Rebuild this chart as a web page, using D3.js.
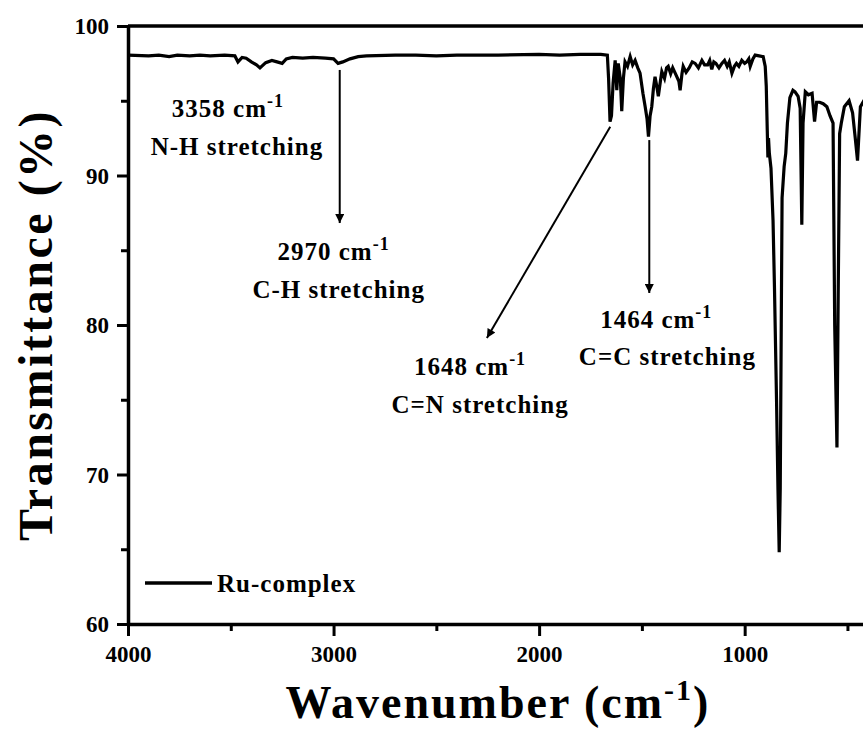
<!DOCTYPE html>
<html>
<head>
<meta charset="utf-8">
<script src="https://cdn.jsdelivr.net/npm/d3@7"></script>
<style>
  html, body { margin: 0; padding: 0; background: #fff; overflow: hidden; }
  svg { display: block; }
  text { font-family: "Liberation Serif", "Times New Roman", serif; font-weight: bold; fill: #000; }
</style>
</head>
<body>
<svg id="chart"></svg>
<script>
// spectrum (wavenumber in cm-1, transmittance in %)
const wavenumbers = [
  4000, 3900, 3850, 3800, 3760, 3700, 3650, 3600, 3530, 3480,
  3465, 3445, 3425, 3400, 3375, 3358, 3330, 3300, 3275, 3250,
  3230, 3200, 3150, 3100, 3040, 3000, 2978, 2955, 2920, 2880,
  2840, 2700, 2600, 2500, 2400, 2200, 2000, 1900, 1800, 1700,
  1668, 1662, 1655, 1648, 1640, 1630, 1622, 1615, 1605, 1598,
  1590, 1582, 1570, 1557, 1545, 1533, 1520, 1509, 1495, 1484,
  1475, 1468, 1460, 1452, 1444, 1436, 1428, 1420, 1410, 1403,
  1390, 1380, 1372, 1360, 1350, 1338, 1320, 1314, 1305, 1299,
  1285, 1270, 1255, 1241, 1225, 1208, 1195, 1180, 1170, 1160,
  1150, 1140, 1125, 1111, 1098, 1085, 1075, 1062, 1050, 1040,
  1028, 1014, 1000, 990, 980, 973, 960, 949, 930, 910,
  900, 895, 890, 887, 884, 880, 872, 862, 855, 845,
  838, 832, 827, 822, 818, 808, 800, 792, 780, 765,
  755, 740, 730, 722, 716, 705, 690, 672, 660, 650,
  635, 618, 600, 585, 570, 562, 551, 545, 538, 530,
  515, 492, 475, 462, 451, 444, 437, 420, 400
];
const transmittance = [
  98.05, 98.0, 98.05, 97.95, 98.05, 98.0, 98.05, 98.0, 98.05, 98.0,
  97.6, 97.9, 97.85, 97.6, 97.4, 97.2, 97.55, 97.7, 97.6, 97.5,
  97.8, 97.9, 97.85, 97.9, 97.85, 97.8, 97.5, 97.6, 97.8, 97.95,
  98.0, 98.05, 98.05, 98.0, 98.05, 98.05, 98.1, 98.05, 98.1, 98.1,
  98.05, 96.5, 93.6, 94.0, 96.2, 97.7, 95.7, 97.5, 96.5, 94.3,
  96.5, 97.6, 97.3, 97.95, 97.4, 97.7, 97.2, 96.85, 95.5, 94.6,
  93.8, 92.6, 94.0, 94.6, 95.8, 96.6, 96.0, 95.3, 96.3, 96.95,
  96.5, 97.2, 97.3, 96.8, 97.2, 96.85, 96.3, 95.7, 96.8, 97.3,
  96.9, 97.2, 97.6, 97.5, 97.2, 97.7, 97.4, 97.4, 97.7, 97.1,
  97.6, 97.5, 97.2, 97.5, 97.7, 97.3, 97.6, 96.85, 97.3, 97.5,
  97.3, 97.7, 97.5, 97.6, 97.8, 97.3, 97.8, 98.05, 98.0, 97.95,
  97.3, 96.0, 93.0, 91.2, 92.5, 91.5, 90.5, 87.0, 82.5, 75.0,
  69.0, 64.8, 69.0, 80.0, 88.5, 90.6, 91.5, 93.5, 95.2, 95.7,
  95.6, 95.3, 94.5, 86.7, 93.5, 95.6, 95.4, 95.5, 93.6, 94.9,
  94.9, 94.8, 94.6, 94.0, 93.5, 80.0, 71.8, 82.0, 92.8, 93.5,
  94.6, 95.0, 94.2, 92.5, 91.0, 92.8, 94.6, 95.0, 94.8
];

const xTicks = [4000, 3000, 2000, 1000];
const xMinorTicks = [3500, 2500, 1500, 500];
const yTicks = [60, 70, 80, 90, 100];
const yMinorTicks = [65, 75, 85, 95];

const seriesName = 'Ru-complex';

// peak labels: text anchors in data units, arrows from -> to
const peakValues = ['3358', '2970', '1648', '1464'];
const peakModes = ['N-H stretching', 'C-H stretching', 'C=N stretching', 'C=C stretching'];
const peakLabelAt = [[3514, 93.9], [3000, 84.35], [2336, 76.66], [1430, 79.8]];
const peakModeAt = [[3470, 91.37], [2975, 81.8], [2287, 74.1], [1376, 77.3]];
const arrowFrom = [null, [2970, 97.06], [1654, 93.26], [1464, 92.37]];
const arrowTo = [null, [2970, 86.82], [2254, 79.13], [1464, 82.14]];

const W = 863, H = 733;
const margin = {top: 26, left: 128, right: -5, bottom: 109};
const innerWidth = W - margin.left - margin.right;
const innerHeight = H - margin.top - margin.bottom;

const svg = d3.select('#chart').attr('width', W).attr('height', H);

svg.append('defs').append('marker')
  .attr('id', 'arrowHead')
  .attr('markerUnits', 'userSpaceOnUse')
  .attr('viewBox', '0 0 10 10')
  .attr('refX', 10).attr('refY', 5)
  .attr('markerWidth', 11).attr('markerHeight', 9)
  .attr('orient', 'auto')
  .append('path')
    .attr('d', 'M0,0 L10,5 L0,10 Z')
    .attr('fill', '#000');

const viewPort = svg.append('g')
  .attr('transform', `translate(${margin.left}, ${margin.top})`);

const xScale = d3.scaleLinear()
  .domain([4000, 400])
  .range([0, innerWidth]);

const yScale = d3.scaleLinear()
  .domain([60, 100])
  .range([innerHeight, 0]);

// minor ticks first so the major axis sits on top
viewPort.append('g')
  .attr('transform', `translate(0, ${innerHeight})`)
  .call(d3.axisBottom(xScale).tickValues(xMinorTicks).tickSize(7).tickSizeOuter(0))
  .call(g => g.select('.domain').remove())
  .call(g => g.selectAll('text').remove());

viewPort.append('g')
  .call(d3.axisLeft(yScale).tickValues(yMinorTicks).tickSize(7).tickSizeOuter(0))
  .call(g => g.select('.domain').remove())
  .call(g => g.selectAll('text').remove());

const xAxisG = viewPort.append('g')
  .attr('transform', `translate(0, ${innerHeight})`)
  .call(d3.axisBottom(xScale).tickValues(xTicks).tickSize(12).tickSizeOuter(0)
    .tickPadding(10).tickFormat(d3.format('d')));

const yAxisG = viewPort.append('g')
  .call(d3.axisLeft(yScale).tickValues(yTicks).tickSize(11).tickSizeOuter(0)
    .tickPadding(8).tickFormat(d3.format('d')));

[xAxisG, yAxisG].forEach(g => g
  .attr('font-family', '"Liberation Serif", serif')
  .attr('font-size', 23)
  .attr('font-weight', 'bold'));

// em offsets from d3 turned into plain pixels
xAxisG.selectAll('.tick text').attr('dy', 16);
yAxisG.selectAll('.tick text').attr('dy', 7.5);

viewPort.append('line')
  .attr('x1', 0).attr('x2', innerWidth)
  .attr('y1', 0).attr('y2', 0)
  .attr('stroke', '#000').attr('stroke-width', 3.5);

viewPort.selectAll('.tick line').attr('stroke', '#000').attr('stroke-width', 3);
viewPort.selectAll('.domain').attr('stroke', '#000').attr('stroke-width', 3.5);

const spectrum = wavenumbers.map((w, i) => ({w: w, t: transmittance[i]}));

viewPort.append('path')
  .datum(spectrum)
  .attr('fill', 'none')
  .attr('stroke', '#000')
  .attr('stroke-width', 3.2)
  .attr('d', d3.line().x(d => xScale(d.w)).y(d => yScale(d.t)));

// arrows
arrowFrom.forEach((from, i) => {
  if (!from) return;
  viewPort.append('line')
    .attr('x1', xScale(from[0])).attr('y1', yScale(from[1]))
    .attr('x2', xScale(arrowTo[i][0])).attr('y2', yScale(arrowTo[i][1]))
    .attr('stroke', '#000').attr('stroke-width', 2)
    .attr('marker-end', 'url(#arrowHead)');
});

// peak labels, placed in page coordinates
const px = w => margin.left + xScale(w);
const py = t => margin.top + yScale(t);

peakValues.forEach((v, i) => {
  const t = svg.append('text')
    .attr('x', px(peakLabelAt[i][0]))
    .attr('y', py(peakLabelAt[i][1]))
    .attr('text-anchor', 'middle')
    .attr('font-size', 25)
    .attr('letter-spacing', 1);
  t.append('tspan').text(`${v} cm`);
  t.append('tspan').attr('dy', -10).attr('font-size', 18).text('-1');

  svg.append('text')
    .attr('x', px(peakModeAt[i][0]))
    .attr('y', py(peakModeAt[i][1]))
    .attr('text-anchor', 'middle')
    .attr('font-size', 25)
    .attr('letter-spacing', 1)
    .text(peakModes[i]);
});

// legend
const legendX = margin.left + 17, legendY = margin.top + innerHeight - 41;
svg.append('line')
  .attr('x1', legendX).attr('x2', legendX + 67)
  .attr('y1', legendY).attr('y2', legendY)
  .attr('stroke', '#000').attr('stroke-width', 3.5);
svg.append('text')
  .attr('x', legendX + 72).attr('y', legendY + 9)
  .attr('font-size', 25)
  .attr('letter-spacing', 1)
  .text(seriesName);

// axis titles
const xTitle = svg.append('text')
  .attr('x', margin.left + innerWidth / 2)
  .attr('y', 718)
  .attr('text-anchor', 'middle')
  .attr('font-size', 46)
  .attr('letter-spacing', 2);
xTitle.append('tspan').text('Wavenumber (cm');
xTitle.append('tspan').attr('dy', -18).attr('font-size', 30).text('-1');
xTitle.append('tspan').attr('dy', 18).text(')');

svg.append('text')
  .attr('transform', `translate(52, ${margin.top + innerHeight / 2}) rotate(-90)`)
  .attr('text-anchor', 'middle')
  .attr('font-size', 48)
  .attr('letter-spacing', 2.5)
  .text('Transmittance (%)');
</script>
</body>
</html>
